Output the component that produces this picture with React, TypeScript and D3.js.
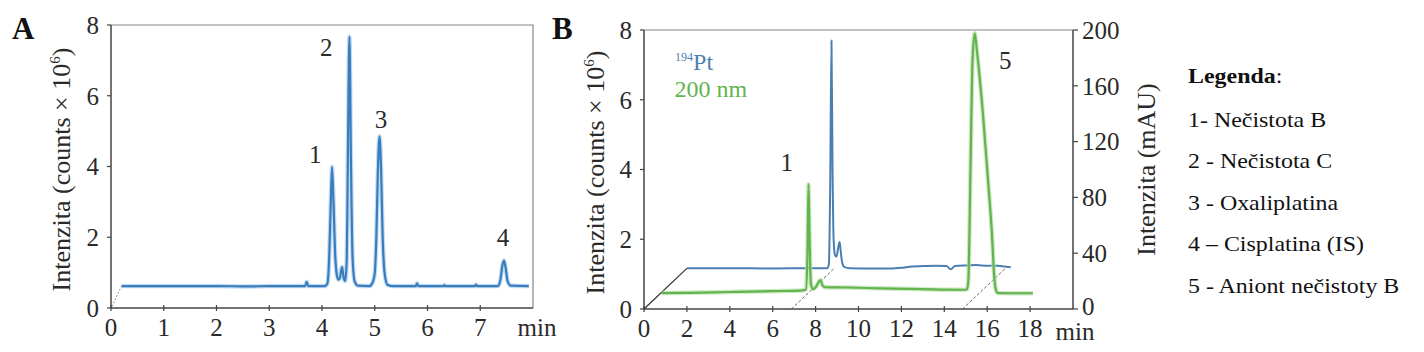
import React from "react";
import * as d3 from "d3";

const FONT = "'Liberation Serif', 'Times New Roman', serif";

// ---- panel A: 194Pt trace (time in min, counts x 10^6)
const ticksAx = [0, 1, 2, 3, 4, 5, 6, 7];
const ticksAy = [0, 2, 4, 6, 8];
const traceA: [number, number][] = [
  [0.2, 0.62], [1.0, 0.62], [2.0, 0.62], [2.6, 0.61], [3.0, 0.62], [3.68, 0.62], [3.71, 0.74], [3.74, 0.62],
  [4.05, 0.62], [4.1, 0.68], [4.13, 1.2], [4.16, 2.6], [4.19, 3.99], [4.22, 2.9], [4.25, 1.5], [4.28, 0.95],
  [4.31, 0.8], [4.34, 0.85], [4.38, 1.16], [4.41, 0.86], [4.44, 0.76], [4.47, 1.4], [4.49, 4.2], [4.52, 7.67],
  [4.55, 4.0], [4.58, 1.4], [4.62, 0.75], [4.68, 0.63], [4.9, 0.62], [4.96, 0.72], [5.0, 0.98], [5.03, 2.0],
  [5.06, 3.9], [5.09, 4.85], [5.12, 3.9], [5.15, 2.0], [5.19, 0.95], [5.24, 0.66], [5.35, 0.62], [5.78, 0.62],
  [5.8, 0.7], [5.83, 0.62], [6.3, 0.62], [6.32, 0.65], [6.34, 0.62], [6.9, 0.62], [6.92, 0.66], [6.94, 0.62],
  [7.33, 0.62], [7.38, 0.78], [7.42, 1.2], [7.45, 1.34], [7.48, 1.15], [7.52, 0.75], [7.58, 0.63], [7.92, 0.62],
];
const startA: [number, number][] = [[0.02, 0.05], [0.2, 0.62]];
const peakLabelsA = [
  { text: "1", t: 3.87, v: 4.36 },
  { text: "2", t: 4.08, v: 7.37 },
  { text: "3", t: 5.12, v: 5.33 },
  { text: "4", t: 7.43, v: 1.99 },
];

// ---- panel B: 194Pt (counts x 10^6) + UV 200 nm (mAU)
const ticksBx = [0, 2, 4, 6, 8, 10, 12, 14, 16, 18];
const ticksBy = [0, 2, 4, 6, 8];
const ticksBy2 = [0, 40, 80, 120, 160, 200];
const traceBpt: [number, number][] = [
  [2.0, 1.165], [4, 1.17], [6, 1.16], [8, 1.17], [8.55, 1.17], [8.62, 1.3], [8.68, 3.5], [8.74, 7.7],
  [8.79, 4.0], [8.84, 2.0], [8.9, 1.55], [8.97, 1.5], [9.05, 1.75], [9.12, 1.92], [9.18, 1.6], [9.25, 1.3],
  [9.35, 1.2], [9.6, 1.17], [10.5, 1.16], [11.5, 1.16], [12.0, 1.18], [12.5, 1.22], [13.0, 1.23], [13.6, 1.24],
  [14.1, 1.23], [14.3, 1.14], [14.5, 1.23], [15.0, 1.25], [15.5, 1.26], [16.0, 1.24], [16.5, 1.24], [16.8, 1.22],
  [17.1, 1.2],
];
const traceBuv: [number, number][] = [
  [0.83, 11.4], [2, 11.6], [4, 12.2], [6, 12.8], [7.3, 13.2], [7.55, 14], [7.62, 40], [7.67, 89.5],
  [7.72, 50], [7.78, 18], [7.88, 14.2], [8.0, 15.5], [8.15, 19.5], [8.23, 20.8], [8.32, 17], [8.45, 15.6],
  [9.5, 15.4], [11, 14.8], [13, 14.2], [14.8, 13.8], [15.05, 14], [15.12, 20], [15.22, 100], [15.32, 180],
  [15.42, 197.6], [15.52, 185], [15.8, 140], [16.05, 90], [16.22, 54], [16.32, 25], [16.4, 14], [16.5, 11.4],
  [17, 11.3], [18.13, 11.3],
];
const depthLine: [number, number][] = [[0, 0], [2, 1.165]];
const dashLines: [number, number][][] = [
  [[6.87, 0], [8.87, 1.165]],
  [[14.85, 0], [16.85, 1.165]],
];
const peakLabelsB = [
  { text: "1", t: 6.66, v: 4.2 },
  { text: "5", t: 16.84, v: 7.13 },
];

const legendTitle = "Legenda";
const legendItems = [
  "1- Nečistota B",
  "2 - Nečistota C",
  "3 - Oxaliplatina",
  "4 – Cisplatina (IS)",
  "5 - Aniont nečistoty B",
];

const BLUE_A = "#3a7dbd";
const BLUE_B = "#4b7fb2";
const GREEN = "#62b44e";
const AXIS = "#444";
const TXT = "#2a2a2a";

export default function App() {
  // scales A
  const xA = d3.scaleLinear().domain([0, 8]).range([111, 533]);
  const yA = d3.scaleLinear().domain([0, 8]).range([308, 25]);
  // scales B
  const xB = d3.scaleLinear().domain([0, 20]).range([644, 1073]);
  const yB = d3.scaleLinear().domain([0, 8]).range([309, 30]);
  const yB2 = d3.scaleLinear().domain([0, 200]).range([309, 30]);

  const lineA = d3.line<[number, number]>().x(d => xA(d[0])).y(d => yA(d[1])).curve(d3.curveMonotoneX);
  const straightA = d3.line<[number, number]>().x(d => xA(d[0])).y(d => yA(d[1]));
  const lineB = d3.line<[number, number]>().x(d => xB(d[0])).y(d => yB(d[1])).curve(d3.curveMonotoneX);
  const straightB = d3.line<[number, number]>().x(d => xB(d[0])).y(d => yB(d[1]));
  const lineUV = d3.line<[number, number]>().x(d => xB(d[0])).y(d => yB2(d[1])).curve(d3.curveMonotoneX);

  const tickFont = 25;
  const titleFont = 26;

  return (
    <svg
      width={1424}
      height={352}
      style={{ position: "absolute", left: 0, top: 0, display: "block", background: "#fff" }}
      fontFamily={FONT}
    >
      {/* ---------------- panel A ---------------- */}
      <text x={12} y={39} fontSize={31} fontWeight="bold" fill="#111">A</text>
      {/* frame */}
      <path d={`M${xA(0)},${yA(8)}H${xA(8)}V${yA(0)}`} fill="none" stroke="#888" strokeWidth={1.2} />
      <line x1={xA(0)} x2={xA(8)} y1={yA(0)} y2={yA(0)} stroke={AXIS} strokeWidth={1.5} />
      <line x1={xA(0)} x2={xA(0)} y1={yA(0)} y2={yA(8)} stroke={AXIS} strokeWidth={1.5} />
      {ticksAx.map(t => (
        <g key={"ax" + t}>
          <line x1={xA(t)} x2={xA(t)} y1={yA(0) - 3} y2={yA(0) + 3} stroke={AXIS} strokeWidth={1.2} />
          <text x={xA(t)} y={yA(0) + 28} fontSize={tickFont} textAnchor="middle" fill={TXT}>{t}</text>
        </g>
      ))}
      <text x={xA(8) + 4} y={yA(0) + 28} fontSize={tickFont} textAnchor="middle" fill={TXT}>min</text>
      {ticksAy.map(t => (
        <g key={"ay" + t}>
          <line x1={xA(0) - 4} x2={xA(0)} y1={yA(t)} y2={yA(t)} stroke={AXIS} strokeWidth={1.2} />
          <text x={xA(0) - 12} y={yA(t)} dy="0.35em" fontSize={tickFont} textAnchor="end" fill={TXT}>{t}</text>
        </g>
      ))}
      <text
        transform={`translate(70,${(yA(0) + yA(8)) / 2 + 3}) rotate(-90)`}
        fontSize={titleFont}
        textAnchor="middle"
        fill={TXT}
      >
        Intenzita (counts × 10<tspan dy={-10} fontSize={15}>6</tspan><tspan dy={10}>)</tspan>
      </text>
      <path d={straightA(startA) || ""} fill="none" stroke="#777" strokeWidth={1} strokeDasharray="1.5,2" />
      <path d={lineA(traceA) || ""} fill="none" stroke="#a9cdee" strokeWidth={4.5} strokeLinejoin="round" opacity={0.7} />
      <path d={lineA(traceA) || ""} fill="none" stroke={BLUE_A} strokeWidth={2.2} strokeLinejoin="round" />
      {peakLabelsA.map(p => (
        <text key={"pa" + p.text} x={xA(p.t)} y={yA(p.v)} dy="0.35em" fontSize={tickFont} textAnchor="middle" fill={TXT}>
          {p.text}
        </text>
      ))}

      {/* ---------------- panel B ---------------- */}
      <text x={552} y={39} fontSize={31} fontWeight="bold" fill="#111">B</text>
      <line x1={xB(0)} x2={xB(20)} y1={yB(8)} y2={yB(8)} stroke="#888" strokeWidth={1.2} />
      <line x1={xB(0)} x2={xB(20)} y1={yB(0)} y2={yB(0)} stroke={AXIS} strokeWidth={1.5} />
      <line x1={xB(0)} x2={xB(0)} y1={yB(0)} y2={yB(8)} stroke={AXIS} strokeWidth={1.5} />
      <line x1={xB(20)} x2={xB(20)} y1={yB(0)} y2={yB(8)} stroke={AXIS} strokeWidth={1.5} />
      {ticksBx.map(t => (
        <g key={"bx" + t}>
          <line x1={xB(t)} x2={xB(t)} y1={yB(0) - 3} y2={yB(0) + 3} stroke={AXIS} strokeWidth={1.2} />
          <text x={xB(t)} y={yB(0) + 28} fontSize={tickFont} textAnchor="middle" fill={TXT}>{t}</text>
        </g>
      ))}
      <text x={xB(20) + 2} y={yB(0) + 31} fontSize={tickFont} textAnchor="middle" fill={TXT}>min</text>
      {ticksBy.map(t => (
        <g key={"by" + t}>
          <line x1={xB(0) - 4} x2={xB(0)} y1={yB(t)} y2={yB(t)} stroke={AXIS} strokeWidth={1.2} />
          <text x={xB(0) - 12} y={yB(t)} dy="0.35em" fontSize={tickFont} textAnchor="end" fill={TXT}>{t}</text>
        </g>
      ))}
      {ticksBy2.map(t => (
        <g key={"by2" + t}>
          <line x1={xB(20)} x2={xB(20) + 5} y1={yB2(t)} y2={yB2(t)} stroke={AXIS} strokeWidth={1.2} />
          <text x={xB(20) + 9} y={yB2(t) - (t === 0 ? 3 : 0)} dy="0.35em" fontSize={tickFont} textAnchor="start" fill={TXT}>{t}</text>
        </g>
      ))}
      <text
        transform={`translate(604,${(yB(0) + yB(8)) / 2 + 3}) rotate(-90)`}
        fontSize={titleFont}
        textAnchor="middle"
        fill={TXT}
      >
        Intenzita (counts × 10<tspan dy={-10} fontSize={15}>6</tspan><tspan dy={10}>)</tspan>
      </text>
      <text
        transform={`translate(1155,${(yB(0) + yB(8)) / 2}) rotate(-90)`}
        fontSize={titleFont}
        textAnchor="middle"
        fill={TXT}
      >
        Intenzita (mAU)
      </text>
      {/* pseudo-3D offset lines */}
      <path d={straightB(depthLine) || ""} fill="none" stroke="#333" strokeWidth={1.2} />
      {dashLines.map((l, i) => (
        <path key={"dl" + i} d={straightB(l) || ""} fill="none" stroke="#555" strokeWidth={0.9} strokeDasharray="3,2" />
      ))}
      <path d={lineB(traceBpt) || ""} fill="none" stroke={BLUE_B} strokeWidth={2} strokeLinejoin="round" />
      <path d={lineUV(traceBuv) || ""} fill="none" stroke="#b8dfaa" strokeWidth={4.5} strokeLinejoin="round" opacity={0.7} />
      <path d={lineUV(traceBuv) || ""} fill="none" stroke={GREEN} strokeWidth={2.2} strokeLinejoin="round" />
      {peakLabelsB.map(p => (
        <text key={"pb" + p.text} x={xB(p.t)} y={yB(p.v)} dy="0.35em" fontSize={tickFont} textAnchor="middle" fill={TXT}>
          {p.text}
        </text>
      ))}
      <text x={xB(1.45)} y={yB(6.85)} fontSize={24} fill={BLUE_B}>
        <tspan fontSize={12} dy={-9}>194</tspan>
        <tspan dy={9}>Pt</tspan>
      </text>
      <text x={xB(1.42)} y={yB(6.09)} fontSize={24} fill={GREEN}>200 nm</text>

      {/* ---------------- legend ---------------- */}
      <g transform="translate(1188,0) scale(1.14,1)">
        <text x={0} y={83} fontSize={21} fill="#111">
          <tspan fontWeight="bold">{legendTitle}</tspan>:
        </text>
        {legendItems.map((s, i) => (
          <text key={s} x={0} y={127 + i * 41.5} fontSize={21} fill="#111">{s}</text>
        ))}
      </g>
    </svg>
  );
}
